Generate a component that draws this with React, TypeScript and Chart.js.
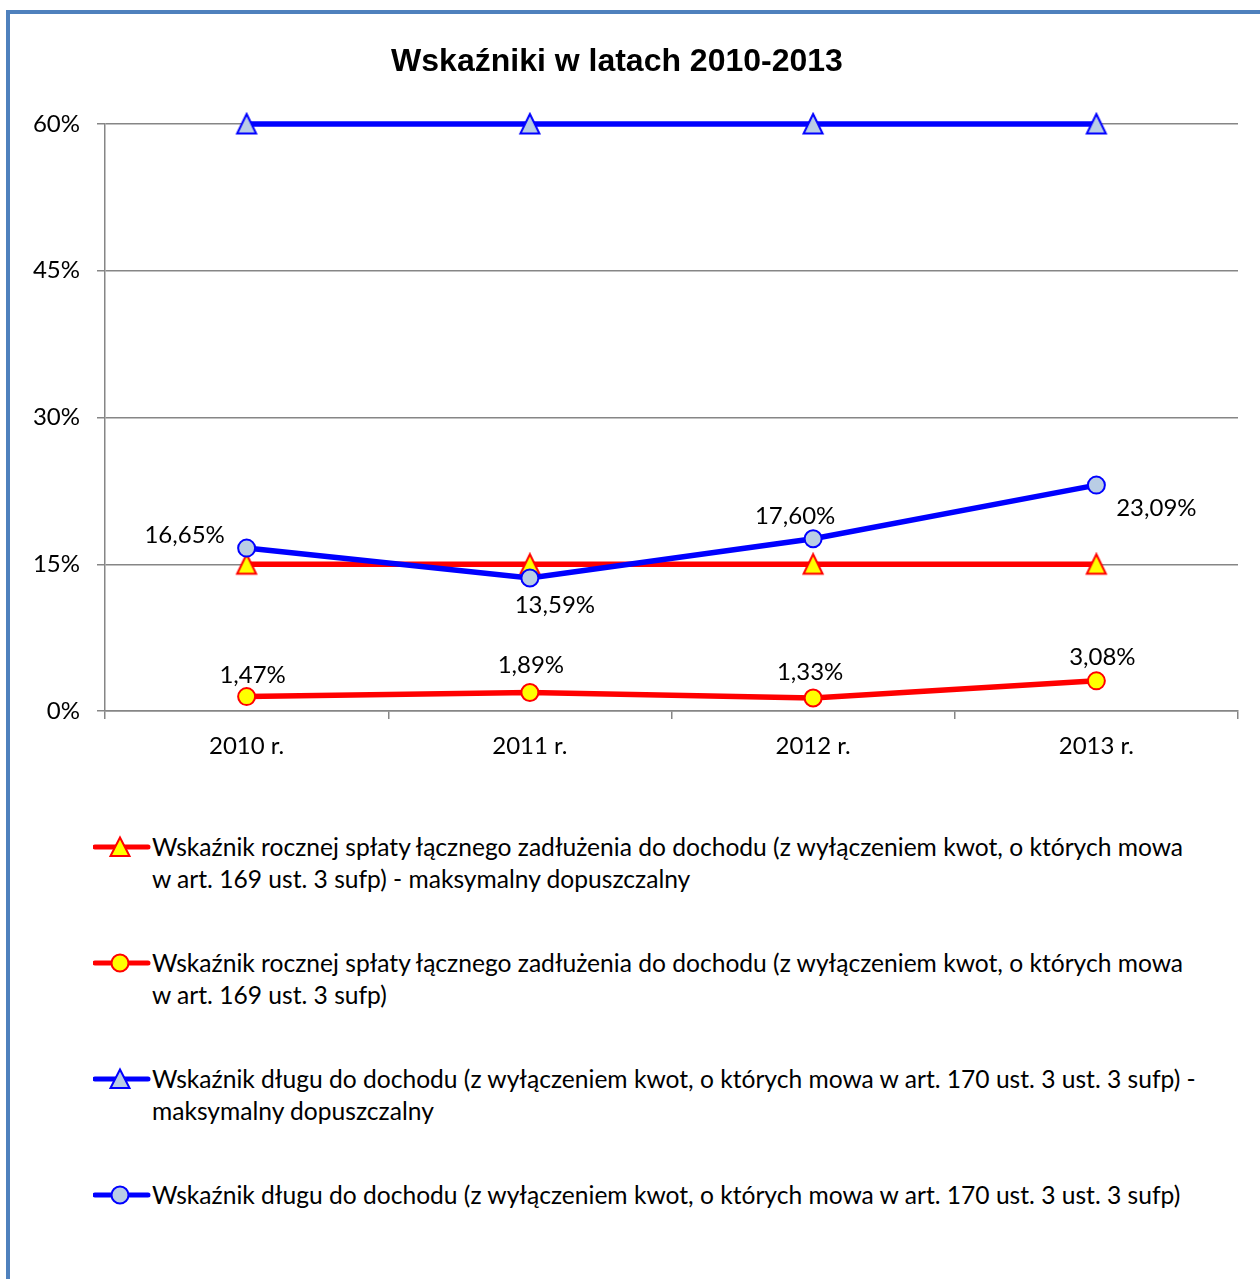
import React, { useEffect, useRef } from "react";
import { Chart, registerables } from "chart.js";

Chart.register(...registerables);

const chartTitle = "Wskaźniki w latach 2010-2013";
const categories = ["2010 r.", "2011 r.", "2012 r.", "2013 r."];
const seriesLabels = [
  "Wskaźnik rocznej spłaty łącznego zadłużenia do dochodu (z wyłączeniem kwot, o których mowa w art. 169 ust. 3 sufp) - maksymalny dopuszczalny",
  "Wskaźnik rocznej spłaty łącznego zadłużenia do dochodu (z wyłączeniem kwot, o których mowa w art. 169 ust. 3 sufp)",
  "Wskaźnik długu do dochodu (z wyłączeniem kwot, o których mowa w art. 170 ust. 3 ust. 3 sufp) - maksymalny dopuszczalny",
  "Wskaźnik długu do dochodu (z wyłączeniem kwot, o których mowa w art. 170 ust. 3 ust. 3 sufp)",
];
// where each legend entry wraps onto its second line
const legendBreakAfter = ["mowa ", "mowa ", "sufp) - ", ""];
const repayMax = [15, 15, 15, 15];
const repayActual = [1.47, 1.89, 1.33, 3.08];
const debtMax = [60, 60, 60, 60];
const debtActual = [16.65, 13.59, 17.6, 23.09];
const yTickValues = [0, 15, 30, 45, 60];

const FONT = "Lato, 'Open Sans', sans-serif";
const TEXT_SIZE = 24;
const RED = "#FF0000";
const BLUE = "#0000FF";
const YELLOW = "#FFFF00";
const STEEL = "#B9CDE5";
const GRID = "#868686";

const legendStyles = [
  { line: RED, fill: YELLOW, shape: "triangle" },
  { line: RED, fill: YELLOW, shape: "circle" },
  { line: BLUE, fill: STEEL, shape: "triangle" },
  { line: BLUE, fill: STEEL, shape: "circle" },
];

const fmt = (v: number) => v.toFixed(2).replace(".", ",") + "%";

const splitLegend = (text: string, brk: string) => {
  if (!brk) return [text];
  const idx = text.indexOf(brk);
  if (idx < 0) return [text];
  return [text.slice(0, idx + brk.length).trim(), text.slice(idx + brk.length)];
};

function makeTriangle(fill: string, stroke: string): HTMLCanvasElement {
  const c = document.createElement("canvas");
  c.width = 24;
  c.height = 24;
  const ctx = c.getContext("2d")!;
  ctx.beginPath();
  ctx.moveTo(12, 2);
  ctx.lineTo(21.5, 21.5);
  ctx.lineTo(2.5, 21.5);
  ctx.closePath();
  ctx.fillStyle = fill;
  ctx.fill();
  ctx.lineWidth = 2;
  ctx.lineJoin = "miter";
  ctx.strokeStyle = stroke;
  ctx.stroke();
  return c;
}

const labelPlugin = {
  id: "pointLabels",
  afterDatasetsDraw(chart: any) {
    const ctx = chart.ctx;
    ctx.save();
    ctx.font = `${TEXT_SIZE}px ${FONT}`;
    ctx.fillStyle = "#000";
    ctx.textAlign = "center";
    ctx.textBaseline = "middle";
    chart.data.datasets.forEach((ds: any, di: number) => {
      if (!ds.labelOffsets) return;
      const meta = chart.getDatasetMeta(di);
      meta.data.forEach((pt: any, i: number) => {
        const [dx, dy] = ds.labelOffsets[i];
        ctx.fillText(fmt(ds.data[i]), pt.x + dx, pt.y + dy);
      });
    });
    ctx.restore();
  },
};

const titlePlugin = {
  id: "customTitle",
  afterDraw(chart: any) {
    const ctx = chart.ctx;
    ctx.save();
    ctx.font = "bold 32px 'Liberation Sans', Arial, sans-serif";
    ctx.fillStyle = "#000";
    ctx.textAlign = "center";
    ctx.textBaseline = "middle";
    ctx.fillText(chartTitle, 617, 62);
    ctx.restore();
  },
};

function Marker({ line, fill, shape }: { line: string; fill: string; shape: string }) {
  return (
    <svg width={59} height={32} style={{ flex: "0 0 59px" }}>
      <line x1={2} y1={16} x2={55} y2={16} stroke={line} strokeWidth={5} strokeLinecap="round" />
      {shape === "circle" ? (
        <circle cx={27} cy={16} r={8.5} fill={fill} stroke={line} strokeWidth={2} />
      ) : (
        <polygon points="27,6.5 36.5,25 17.5,25" fill={fill} stroke={line} strokeWidth={2} />
      )}
    </svg>
  );
}

export default function App() {
  const canvasRef = useRef<HTMLCanvasElement | null>(null);

  useEffect(() => {
    if (!canvasRef.current) return;
    const common = { borderWidth: 5.5, pointBorderWidth: 2, clip: false as any };
    const redTri = makeTriangle(YELLOW, RED);
    const blueTri = makeTriangle(STEEL, BLUE);
    const chart = new Chart(canvasRef.current, {
      type: "line",
      data: {
        labels: categories,
        datasets: [
          {
            ...common,
            label: seriesLabels[0],
            data: repayMax,
            borderColor: RED,
            backgroundColor: YELLOW,
            pointBackgroundColor: YELLOW,
            pointBorderColor: RED,
            pointStyle: redTri,
            pointRadius: 11,
            order: 4,
          } as any,
          {
            ...common,
            label: seriesLabels[1],
            data: repayActual,
            borderColor: RED,
            backgroundColor: YELLOW,
            pointBackgroundColor: YELLOW,
            pointBorderColor: RED,
            pointStyle: "circle",
            pointRadius: 8.5,
            order: 3,
            labelOffsets: [[6, -21], [1, -27], [-3, -26], [6, -24]],
          } as any,
          {
            ...common,
            label: seriesLabels[2],
            data: debtMax,
            borderColor: BLUE,
            backgroundColor: STEEL,
            pointBackgroundColor: STEEL,
            pointBorderColor: BLUE,
            pointStyle: blueTri,
            pointRadius: 11,
            order: 2,
          } as any,
          {
            ...common,
            label: seriesLabels[3],
            data: debtActual,
            borderColor: BLUE,
            backgroundColor: STEEL,
            pointBackgroundColor: STEEL,
            pointBorderColor: BLUE,
            pointStyle: "circle",
            pointRadius: 8.5,
            order: 1,
            labelOffsets: [[-62, -13], [25, 27], [-18, -23], [60, 23]],
          } as any,
        ],
      },
      options: {
        responsive: false,
        animation: false,
        layout: { padding: { top: 124, right: 22, bottom: 0, left: 0 } },
        plugins: {
          legend: { display: false },
          title: { display: false },
          tooltip: { enabled: false },
        },
        scales: {
          x: {
            type: "category",
            offset: true,
            grid: {
              offset: true,
              drawOnChartArea: false,
              drawTicks: true,
              tickLength: 8,
              color: GRID,
              lineWidth: 1.5,
            },
            border: { display: true, color: GRID, width: 1.5 },
            ticks: { color: "#000", font: { family: FONT, size: TEXT_SIZE }, padding: 13 },
            afterFit: (s: any) => {
              s.height = 69;
            },
          },
          y: {
            min: 0,
            max: 60,
            afterBuildTicks: (s: any) => {
              s.ticks = yTickValues.map((v) => ({ value: v }));
            },
            grid: { color: GRID, lineWidth: 1.5, tickLength: 8, drawTicks: true },
            border: { display: true, color: GRID, width: 1.5 },
            ticks: {
              color: "#000",
              font: { family: FONT, size: TEXT_SIZE },
              padding: 17,
              callback: (v: any) => `${v}%`,
            },
            afterFit: (s: any) => {
              s.width = 105;
            },
          },
        },
      },
      plugins: [labelPlugin, titlePlugin],
    });
    return () => chart.destroy();
  }, []);

  return (
    <div style={{ position: "fixed", inset: 0, overflow: "hidden", background: "#fff" }}>
      <div
        style={{
          position: "absolute",
          left: 6,
          top: 10,
          width: 1400,
          height: 1400,
          border: "4px solid #4F81BD",
          boxSizing: "border-box",
        }}
      />
      <canvas
        ref={canvasRef}
        width={1260}
        height={780}
        style={{ position: "absolute", left: 0, top: 0, width: 1260, height: 780 }}
      />
      <div
        style={{
          position: "absolute",
          left: 93,
          top: 831,
          width: 1160,
          display: "flex",
          flexDirection: "column",
          gap: 52,
          fontFamily: FONT,
          fontSize: 24.6,
          lineHeight: "32px",
          color: "#000",
        }}
      >
        {seriesLabels.map((lbl, i) => (
          <div key={i} style={{ display: "flex", alignItems: "flex-start", minHeight: 64 }}>
            <Marker {...legendStyles[i]} />
            <div style={{ flex: 1, whiteSpace: "nowrap" }}>
              {splitLegend(lbl, legendBreakAfter[i]).map((ln, j) => (
                <div key={j}>{ln}</div>
              ))}
            </div>
          </div>
        ))}
      </div>
    </div>
  );
}
